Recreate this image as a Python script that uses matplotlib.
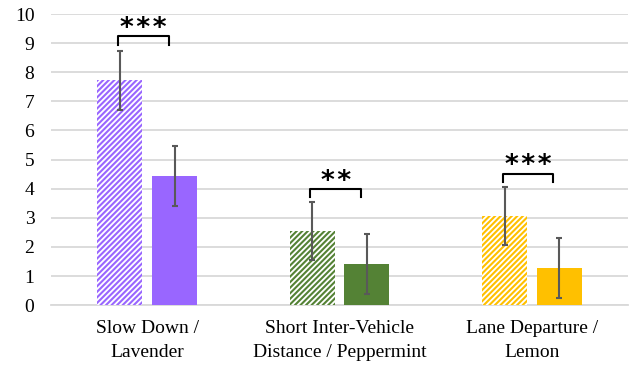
import numpy as np
import matplotlib.pyplot as plt

# Data
categories = ['Slow Down /\nLavender', 'Short Inter-Vehicle\nDistance / Peppermint', 'Lane Departure /\nLemon']
hatched_vals = [7.72, 2.54, 3.06]
hatched_err = [1.00, 1.00, 1.00]
solid_vals = [4.43, 1.41, 1.28]
solid_err = [1.03, 1.03, 1.03]
colors = ['#9966FF', '#548235', '#FFC000']
stars = ['***', '**', '***']
bracket_y = [9.23, 4.00, 4.52]

plt.rcParams['hatch.linewidth'] = 1.5
plt.rcParams['font.family'] = ['Liberation Serif', 'DejaVu Serif']

fig = plt.figure(figsize=(6.3, 3.69), dpi=100)
ax = fig.add_axes([0.081, 0.173, 0.916, 0.789])

x = np.arange(len(categories))
w = 0.234
off = 0.142

for i in range(len(categories)):
    xh = x[i] - off
    xs = x[i] + off
    ax.bar(xh, hatched_vals[i], width=w, color='white', edgecolor=colors[i],
           hatch='//////', linewidth=0, zorder=3)
    ax.bar(xs, solid_vals[i], width=w, color=colors[i], linewidth=0, zorder=3)
    ax.errorbar([xh, xs], [hatched_vals[i], solid_vals[i]],
                yerr=[hatched_err[i], solid_err[i]], fmt='none',
                ecolor='#595959', elinewidth=1.5, capsize=2.5, capthick=1.5, zorder=4)

    # significance bracket
    leg = 0.3
    ax.plot([xh - 0.01, xh - 0.01, xs - 0.03, xs - 0.03],
            [bracket_y[i] - leg, bracket_y[i], bracket_y[i], bracket_y[i] - leg],
            color='black', linewidth=1.5, zorder=5, clip_on=False)
    ax.text((xh + xs) / 2 - 0.02, bracket_y[i] - 0.2, '\u200a'.join(stars[i]),
            ha='center', va='bottom', fontsize=19, fontweight='bold',
            family=['DejaVu Sans'], clip_on=False)

ax.set_xlim(-0.5, 2.5)
ax.set_ylim(0, 10)
ax.set_yticks(np.arange(0, 11, 1))
ax.set_xticks(x)
ax.set_xticklabels(categories, fontsize=14, linespacing=1.5)
ax.tick_params(axis='y', labelsize=14, length=0, pad=12)
ax.tick_params(axis='x', length=0, pad=11)

for s in ['top', 'right', 'left']:
    ax.spines[s].set_visible(False)
ax.spines['bottom'].set_color('#D9D9D9')
ax.spines['bottom'].set_linewidth(1.3)

ax.grid(axis='y', color='#D9D9D9', linewidth=1.3, zorder=0)
ax.set_axisbelow(True)

plt.savefig('out.png', dpi=100)
